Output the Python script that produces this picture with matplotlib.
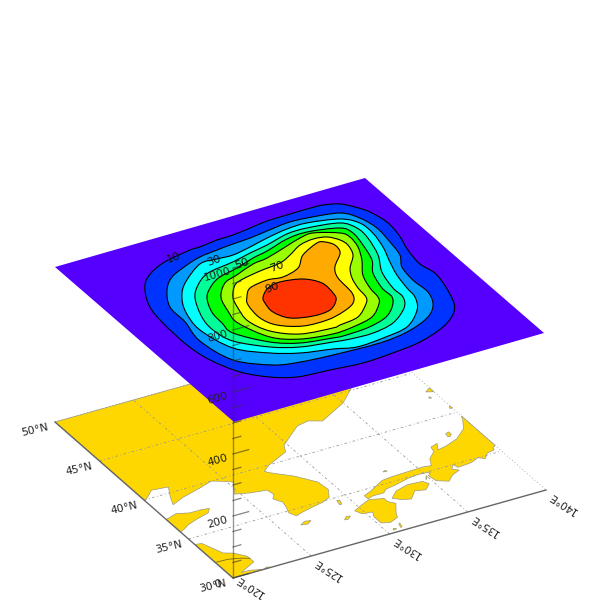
import numpy as np
import matplotlib
matplotlib.use("Agg")
import matplotlib.pyplot as plt
from matplotlib.path import Path
from matplotlib.patches import PathPatch, Polygon

# contour levels and band colours (outermost = plane colour)
levels = [10, 20, 30, 40, 50, 60, 70, 80, 90]
band_colors = ["#0033ff", "#0099ff", "#00ffff", "#00ff99", "#00ff00",
               "#99ff00", "#ffff00", "#ffaa00", "#ff3300"]
plane_color = "#5500ff"
land_color = "#ffd700"

c10_lon = [123.07, 123.94, 125.46, 127.49, 128.14, 129.36, 130.41, 131.63, 132.85, 134.15, 135.46, 136.45, 137.34, 137.89, 138.34, 138.60, 138.45, 138.05, 137.85, 138.06, 137.50, 136.81, 135.45, 133.49, 131.56, 129.55, 127.56, 125.57, 124.26, 123.09, 122.31, 122.03, 122.10, 122.36]
c10_lat = [45.27, 46.44, 47.39, 47.89, 47.91, 48.11, 48.15, 48.35, 48.56, 48.59, 48.61, 48.55, 48.18, 47.47, 46.57, 45.12, 43.53, 41.83, 40.14, 38.60, 35.96, 34.54, 33.40, 32.58, 32.27, 32.13, 32.37, 32.61, 33.36, 34.68, 36.68, 38.77, 41.57, 43.48]
c20_lon = [124.14, 125.11, 126.50, 127.58, 128.80, 129.91, 131.07, 132.29, 133.70, 134.95, 136.83, 137.51, 137.78, 137.63, 137.38, 136.81, 136.61, 136.67, 136.19, 135.17, 133.42, 131.49, 128.55, 126.56, 125.08, 123.42, 122.88, 123.23, 123.33]
c20_lat = [44.65, 45.77, 46.52, 46.94, 47.14, 47.28, 47.38, 47.59, 47.82, 47.74, 47.30, 46.26, 44.82, 43.10, 41.56, 40.35, 38.78, 37.20, 35.80, 34.71, 33.91, 33.60, 33.74, 33.97, 34.44, 36.04, 38.80, 41.05, 42.92]
c30_lon = [124.47, 125.41, 127.19, 128.30, 129.29, 130.57, 131.89, 133.37, 134.67, 136.50, 137.23, 137.30, 137.01, 136.51, 136.12, 135.88, 135.76, 135.14, 133.70, 131.92, 130.16, 128.88, 127.06, 125.60, 124.09, 123.50, 123.82]
c30_lat = [43.56, 44.83, 46.26, 46.27, 46.21, 46.51, 46.91, 47.23, 47.26, 46.72, 45.78, 44.45, 42.81, 41.17, 39.72, 38.18, 37.07, 35.76, 34.40, 33.99, 33.85, 34.32, 34.85, 35.69, 37.20, 39.87, 42.00]
c40_lon = [125.05, 125.93, 127.08, 128.90, 130.24, 131.50, 133.09, 134.39, 136.27, 136.81, 136.78, 136.32, 135.56, 135.20, 135.18, 134.62, 133.24, 131.71, 130.26, 129.28, 127.40, 125.94, 124.48, 124.13, 124.32]
c40_lat = [43.10, 44.28, 45.16, 45.54, 45.93, 46.23, 46.75, 46.77, 46.34, 45.38, 44.10, 42.17, 40.42, 38.57, 37.41, 36.32, 35.17, 34.75, 34.81, 35.00, 35.43, 36.27, 37.88, 39.50, 41.07]
c50_lon = [125.68, 126.60, 127.43, 128.77, 130.10, 131.17, 132.81, 134.17, 135.99, 136.34, 136.15, 135.75, 135.07, 134.67, 134.65, 134.09, 133.14, 131.70, 130.09, 129.50, 127.62, 126.22, 124.93, 124.96, 125.08]
c50_lat = [42.86, 43.89, 44.44, 44.84, 45.36, 45.65, 46.26, 46.38, 45.85, 45.01, 43.56, 41.86, 40.57, 38.87, 37.71, 36.74, 35.88, 35.41, 35.30, 35.39, 35.82, 36.75, 38.65, 39.92, 41.27]
c60_lon = [126.36, 127.34, 128.37, 129.76, 130.78, 132.42, 133.49, 134.40, 135.71, 135.97, 135.80, 135.26, 134.47, 134.09, 133.97, 133.63, 132.56, 131.09, 129.72, 127.84, 126.50, 125.73, 125.92]
c60_lat = [42.47, 43.72, 44.17, 44.78, 44.97, 45.59, 45.99, 46.12, 45.37, 44.70, 43.51, 42.14, 40.66, 39.21, 38.10, 37.41, 36.34, 35.90, 35.78, 36.20, 37.24, 39.48, 40.93]
c70_lon = [126.94, 127.72, 128.44, 129.71, 131.13, 132.05, 133.10, 134.07, 134.86, 135.32, 135.42, 135.11, 134.24, 133.78, 133.51, 133.39, 133.00, 131.88, 130.57, 130.06, 128.12, 126.83, 126.33, 126.57]
c70_lat = [42.14, 43.25, 43.61, 43.91, 44.13, 44.62, 45.31, 45.53, 45.34, 44.69, 43.98, 42.87, 41.69, 40.68, 39.54, 38.44, 37.77, 36.73, 36.45, 36.36, 36.69, 37.82, 39.40, 40.94]
c80_lon = [127.62, 128.28, 129.54, 130.48, 131.72, 132.68, 134.04, 134.48, 134.79, 134.60, 133.56, 133.10, 132.94, 132.43, 131.43, 130.22, 128.71, 127.51, 127.08, 127.23]
c80_lat = [41.75, 42.54, 42.84, 42.69, 43.14, 44.26, 45.04, 44.91, 44.34, 43.43, 42.21, 41.07, 39.22, 38.22, 37.63, 37.29, 37.38, 38.20, 39.36, 40.95]
c90_lon = [128.40, 129.15, 130.06, 131.34, 132.04, 132.02, 131.77, 130.92, 129.76, 128.53, 128.04, 128.16]
c90_lat = [41.30, 42.04, 42.29, 41.94, 41.02, 39.75, 38.98, 38.18, 38.07, 38.52, 39.58, 40.67]
contour_lons = [c10_lon, c20_lon, c30_lon, c40_lon, c50_lon, c60_lon, c70_lon, c80_lon, c90_lon]
contour_lats = [c10_lat, c20_lat, c30_lat, c40_lat, c50_lat, c60_lat, c70_lat, c80_lat, c90_lat]

label_text = ["10", "30", "50", "70", "90"]
label_lon = [126.27, 128.04, 129.23, 130.75, 129.34]
label_lat = [47.56, 46.16, 45.09, 43.82, 41.93]

# land, lon/lat
main_land = [(120, 50), (140, 50), (140, 49.5), (138, 47), (136, 45), (135, 44), (133, 42.8), (132.3, 43.2), (131.5, 43), (130.7, 42.3),
             (129.8, 41.5), (129.5, 40.8), (128, 40), (127.4, 39.5), (127.6, 39.2), (128.6, 38.2), (129.4, 37), (129.5, 36), (129.1, 35.2),
             (128.5, 34.9), (127.7, 34.7), (127, 34.5), (126.5, 34.3), (126.3, 34.8), (126.5, 35.5), (126.6, 36), (126.3, 36.6), (126.6, 37),
             (126.5, 37.6), (125.5, 37.8), (124.7, 38.1), (125, 38.7), (125.3, 39.3), (125.1, 39.5), (124.3, 40), (123.4, 39.65), (122.05, 39.2),
             (121.15, 38.75), (121.45, 39.6), (121.9, 40.6), (120.9, 40.75), (120.25, 40.1), (120, 39.9)]
shandong = [(120, 37.5), (120.8, 37.8), (121.5, 37.5), (122.2, 37.5), (122.7, 37.4), (122.4, 37), (121.5, 36.7), (120.8, 36.4), (120.3, 36.05), (120, 35.9)]
jiangsu = [(120, 34.3), (120.4, 34.2), (120.7, 33.3), (120.9, 32.7), (121.4, 32.4), (121.9, 31.7), (121.9, 31), (121.2, 30.6), (120.7, 30.3), (121.2, 30.3), (122, 30), (120, 30)]
kyushu = [(130.9, 33.9), (131.7, 33.6), (131.7, 33.2), (132, 32.8), (131.5, 31.9), (131.3, 31.4), (130.7, 31.1), (130.2, 31.3), (130.2, 32.1), (130.4, 32.6), (129.8, 32.7), (129.6, 33.2), (130.3, 33.6)]
shikoku = [(132.1, 33.4), (132.7, 34), (133.6, 34.3), (134.5, 34.2), (134.7, 33.8), (134.2, 33.3), (133.6, 33.5), (133, 32.8), (132.5, 33)]
honshu = [(130.9, 34), (130.9, 34.4), (131.5, 34.7), (132.6, 35.4), (133.3, 35.5), (134.3, 35.55), (135.3, 35.6), (135.8, 35.5), (136.1, 36.2), (136.7, 36.8), (136.8, 37.3), (137.3, 37.5), (137, 36.85), (137.6, 37),
          (138.5, 37.4), (139.4, 38.2), (139.8, 39), (140, 39.5), (140, 35.7), (139.8, 35.6), (139.7, 35.3), (139.2, 35.2), (138.8, 34.7), (138.5, 35), (137.9, 34.7), (137, 34.6), (136.9, 35), (136.6, 34.6),
          (136.9, 34.3), (136.3, 34), (135.8, 33.5), (135.2, 33.9), (135.1, 34.6), (135.4, 34.9), (134.7, 35), (134, 34.9), (133, 34.6), (132.3, 34.45), (132, 34.15), (131.3, 34.15)]
small_islands = [
    [(126.2, 33.3), (126.6, 33.55), (126.95, 33.45), (126.6, 33.2)],  # jeju
    [(138.2, 37.85), (138.25, 38.2), (138.5, 38.3), (138.5, 38), (138.3, 37.8)],  # sado
    [(133.1, 36.2), (133.3, 36.3), (133.35, 36.15)],  # oki
    [(129.2, 34.2), (129.3, 34.7), (129.45, 34.65), (129.35, 34.2)],  # tsushima
    [(134.75, 34.25), (134.95, 34.6), (135.0, 34.55)],  # awaji
    [(128.6, 32.6), (128.9, 32.9), (129.1, 32.8), (128.8, 32.55)],  # goto
    [(130.9, 30.35), (131.05, 30.8), (131.1, 30.75), (131.0, 30.35)],  # tanegashima
    [(130.4, 30.3), (130.5, 30.45), (130.65, 30.35), (130.5, 30.25)],  # yakushima
    [(122.0, 30), (122.2, 30.15), (122.4, 30.05), (122.2, 30)],  # zhoushan
    [(139.85, 40.55), (139.9, 40.7), (140, 40.75), (140, 40.5)],
    [(139.4, 42.1), (139.5, 42.25), (139.55, 42.05)],
    [(139.6, 42.8), (140, 43.1), (140, 42.6)],
]
yangtze_lon = [120, 120.8, 121.5, 121.9]
yangtze_lat = [32.0, 31.95, 31.7, 31.45]

lon_ticks = [120, 125, 130, 135, 140]
lat_ticks = [30, 35, 40, 45, 50]
z_major = [0, 200, 400, 600, 800, 1000]
z_minor = [50, 100, 150, 250, 300, 350, 450, 500, 550, 650, 700, 750, 850, 900, 950]


def project(lon, lat, z=0, top=False):
    # simple parallel projection onto the picture
    lon = np.asarray(lon, dtype=float) - 120
    lat = np.asarray(lat, dtype=float) - 30
    if top:
        return 234 + 15.5 * lon - 8.95 * lat, 422 - 4.45 * lon - 7.75 * lat
    return 233 + 15.65 * lon - 8.9 * lat, 578 - 4.4 * lon - 7.8 * lat - 0.31 * z


def smooth_path(x, y):
    # closed catmull-rom through the points
    p = np.column_stack([x, y])
    n = len(p)
    verts = [p[0]]
    codes = [Path.MOVETO]
    for i in range(n):
        p0, p1, p2, p3 = p[i - 1], p[i], p[(i + 1) % n], p[(i + 2) % n]
        verts += [p1 + (p2 - p0) / 6, p2 - (p3 - p1) / 6, p2]
        codes += [Path.CURVE4] * 3
    return Path(verts, codes)


plt.rcParams["font.family"] = "DejaVu Sans"
fig = plt.figure(figsize=(6, 6), dpi=100)
ax = fig.add_axes([0, 0, 1, 1])
ax.set_xlim(0, 600)
ax.set_ylim(600, 0)
ax.axis("off")

# bottom map
for shape in [main_land, shandong, jiangsu, kyushu, shikoku, honshu] + small_islands:
    xs, ys = project(*zip(*shape))
    ax.add_patch(Polygon(np.column_stack([xs, ys]), closed=True, fc=land_color, ec="#9a9a80", lw=0.5, zorder=1))
ax.plot(*project(yangtze_lon, yangtze_lat), color="#7a6a20", lw=0.6, zorder=1.5)

grid_style = dict(color="#999999", lw=0.6, ls=(0, (3, 3, 1, 3)), zorder=2)
for lon in lon_ticks[1:-1]:
    ax.plot(*project([lon, lon], [30, 50]), **grid_style)
for lat in lat_ticks[1:-1]:
    ax.plot(*project([120, 140], [lat, lat]), **grid_style)
ax.plot(*project([120, 140, 140], [50, 50, 30]), color="#999999", lw=0.6, ls=(0, (1, 3)), zorder=2)
ax.plot(*project([120, 120, 140], [50, 30, 30]), color="#666666", lw=1.0, zorder=2.5)

for lat in lat_ticks:
    x, y = project(120, lat)
    ax.text(x - 20, y + 8, "%d°N" % lat, rotation=13, rotation_mode="anchor", ha="center", va="center", fontsize=7.8, color="#222222", zorder=3)
for lon in lon_ticks:
    x, y = project(lon, 30)
    # the 120 label sits right on the bottom edge
    dy = 8 if lon == 120 else 12.5
    ax.text(x + 17, y + dy, "%d°E" % lon, rotation=147, rotation_mode="anchor", ha="center", va="center", fontsize=7.6, color="#222222", zorder=3)

# top plane with contours
xs, ys = project([120, 140, 140, 120], [30, 30, 50, 50], top=True)
ax.add_patch(Polygon(np.column_stack([xs, ys]), closed=True, fc=plane_color, ec="none", zorder=4))
for lons, lats, col in zip(contour_lons, contour_lats, band_colors):
    xs, ys = project(lons, lats, top=True)
    ax.add_patch(PathPatch(smooth_path(xs, ys), fc=col, ec="black", lw=0.8, zorder=5))
for txt, lon, lat in zip(label_text, label_lon, label_lat):
    x, y = project(lon, lat, top=True)
    ax.text(x, y, txt, rotation=20, rotation_mode="anchor", ha="center", va="center", fontsize=8.2, color="#111111", zorder=7)

# z axis
x0, y0 = project(120, 30, 0)
x1, y1 = project(120, 30, z_major[-1])
ax.plot([x0, x1], [y0, y1], color="#333333", lw=1.0, alpha=0.5, zorder=6)
for z in z_major:
    xa, ya = project([120, 121], [30, 30], z)
    ax.plot(xa, ya, color="#333333", lw=0.9, alpha=0.6, zorder=6)
    ax.text(xa[0] - 15.5, ya[0] + 6, str(z), rotation=15.7, rotation_mode="anchor", ha="center", va="center", fontsize=7.8, color="#222222", zorder=7)
for z in z_minor:
    xa, ya = project([120, 120.5], [30, 30], z)
    ax.plot(xa, ya, color="#333333", lw=0.9, alpha=0.6, zorder=6)

fig.savefig("out.png", dpi=100)
